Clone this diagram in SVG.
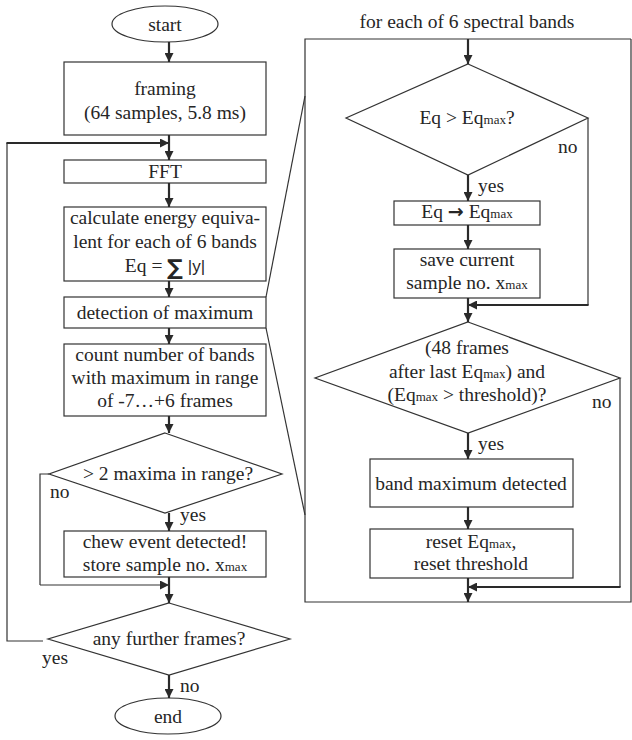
<svg xmlns="http://www.w3.org/2000/svg" width="632" height="740" viewBox="0 0 632 740">
  <defs>
    <marker id="ah" viewBox="0 0 10 10" refX="10" refY="5" markerWidth="9" markerHeight="9" markerUnits="userSpaceOnUse" orient="auto">
      <path d="M0,0 L10,5 L0,10 z" fill="#2a2a2a"/>
    </marker>
    <style>
      .shape { fill: #ffffff; stroke: #333333; stroke-width: 1.2; }
      .txt { font-size: 19.5px; fill: #262626; text-anchor: middle; }
      .lbl { font-size: 19.5px; fill: #262626; }
      .sub { font-size: 13px; }
      .flow { fill: none; stroke: #2a2a2a; stroke-width: 2.2; }
      .thin { fill: none; stroke: #333333; stroke-width: 1.2; }
    </style>
  </defs>

  <rect width="632" height="740" fill="#ffffff"/>

  <g font-family="'Liberation Serif', 'Times New Roman', Times, serif">
  <!-- right panel: per-band processing -->
  <g id="band-panel">
    <path class="thin" d="M631,39 L305,39 L305,602 L631,602 L631,39"/>
    <text class="txt" x="467" y="28">for each of 6 spectral bands</text>
  </g>

  <!-- main loop nodes -->
  <g id="start">
    <ellipse class="shape" cx="165" cy="24" rx="53" ry="18"/>
    <text class="txt" x="165" y="31">start</text>
  </g>
  <g id="framing">
    <rect class="shape" x="64" y="62" width="202" height="73"/>
    <text class="txt" x="165" y="95">framing</text>
    <text class="txt" x="165" y="119">(64 samples, 5.8 ms)</text>
  </g>
  <g id="fft">
    <rect class="shape" x="64" y="160" width="202" height="23"/>
    <text class="txt" x="165" y="178">FFT</text>
  </g>
  <g id="energy">
    <rect class="shape" x="64" y="207" width="202" height="74"/>
    <text class="txt" x="165" y="224">calculate energy equiva-</text>
    <text class="txt" x="165" y="248">lent for each of 6 bands</text>
    <text class="txt" x="165" y="272">Eq = <tspan font-family="'DejaVu Sans', sans-serif" font-weight="bold" font-size="22" dy="3">∑</tspan><tspan font-family="'Liberation Sans', Arial, sans-serif" font-size="17" dy="-3"> |y|</tspan></text>
  </g>
  <g id="detect-max">
    <rect class="shape" x="64" y="297" width="202" height="31"/>
    <text class="txt" x="165" y="319">detection of maximum</text>
  </g>
  <g id="count">
    <rect class="shape" x="64" y="344" width="202" height="72"/>
    <text class="txt" x="165" y="361">count number of bands</text>
    <text class="txt" x="165" y="384">with maximum in range</text>
    <text class="txt" x="165" y="407">of -7…+6 frames</text>
  </g>
  <g id="maxima-check">
    <polygon class="shape" points="165,433 282,474 165,513 49,474"/>
    <text class="txt" x="168" y="480">&gt; 2 maxima in range?</text>
  </g>
  <g id="chew-event">
    <rect class="shape" x="64" y="531" width="202" height="46"/>
    <text class="txt" x="165" y="548">chew event detected!</text>
    <text class="txt" x="165" y="571">store sample no. x<tspan class="sub">max</tspan></text>
  </g>
  <g id="more-frames">
    <polygon class="shape" points="169,603 290,639 169,675 48,639"/>
    <text class="txt" x="169" y="645">any further frames?</text>
  </g>
  <g id="end">
    <ellipse class="shape" cx="168" cy="716" rx="53" ry="18"/>
    <text class="txt" x="168" y="723">end</text>
  </g>

  <!-- per-band nodes -->
  <g id="eq-compare">
    <polygon class="shape" points="468,64 588,118 468,175 346,118"/>
    <text class="txt" x="467" y="124">Eq &gt; Eq<tspan class="sub">max</tspan>?</text>
  </g>
  <g id="eq-store">
    <rect class="shape" x="394" y="201" width="146" height="24"/>
    <text class="txt" x="467" y="218">Eq <tspan font-family="'DejaVu Sans', sans-serif" font-weight="bold" font-size="19">→</tspan> Eq<tspan class="sub">max</tspan></text>
  </g>
  <g id="save-sample">
    <rect class="shape" x="394" y="249" width="146" height="49"/>
    <text class="txt" x="467" y="266">save current</text>
    <text class="txt" x="467" y="289">sample no. x<tspan class="sub">max</tspan></text>
  </g>
  <g id="band-check">
    <polygon class="shape" points="468,322 620,378 468,433 315,378"/>
    <text class="txt" x="467" y="354">(48 frames</text>
    <text class="txt" x="467" y="378">after last Eq<tspan class="sub">max</tspan>) and</text>
    <text class="txt" x="467" y="401">(Eq<tspan class="sub">max</tspan> &gt; threshold)?</text>
  </g>
  <g id="band-max">
    <rect class="shape" x="370" y="459" width="203" height="48"/>
    <text class="txt" x="471" y="490">band maximum detected</text>
  </g>
  <g id="reset">
    <rect class="shape" x="370" y="529" width="203" height="49"/>
    <text class="txt" x="471" y="548">reset Eq<tspan class="sub">max</tspan>,</text>
    <text class="txt" x="471" y="570">reset threshold</text>
  </g>

  <!-- connectors -->
  <g id="connectors">
    <!-- main column -->
    <line class="flow" x1="169" y1="42" x2="169" y2="62" marker-end="url(#ah)"/>
    <line class="flow" x1="169" y1="135" x2="169" y2="160" marker-end="url(#ah)"/>
    <line class="flow" x1="169" y1="183" x2="169" y2="207" marker-end="url(#ah)"/>
    <line class="flow" x1="169" y1="281" x2="169" y2="297" marker-end="url(#ah)"/>
    <line class="flow" x1="169" y1="328" x2="169" y2="344" marker-end="url(#ah)"/>
    <line class="flow" x1="169" y1="416" x2="169" y2="433" marker-end="url(#ah)"/>
    <line class="flow" x1="169" y1="513" x2="169" y2="531" marker-end="url(#ah)"/>
    <line class="flow" x1="169" y1="577" x2="169" y2="603" marker-end="url(#ah)"/>
    <line class="flow" x1="169" y1="675" x2="169" y2="698" marker-end="url(#ah)"/>

    <!-- frame loop back to FFT -->
    <polyline class="thin" points="43,641 7,641 7,143"/>
    <line class="flow" x1="6.4" y1="143" x2="169" y2="143" stroke-width="2.6" marker-end="url(#ah)"/>

    <!-- skip when too few maxima -->
    <polyline class="thin" points="49,474 40,474 40,585"/>
    <line class="thin" x1="40" y1="585" x2="169" y2="585" stroke-width="1.6" marker-end="url(#ah)"/>

    <!-- zoom lines to band panel -->
    <line class="thin" x1="266" y1="297" x2="305" y2="96"/>
    <line class="thin" x1="266" y1="328" x2="305" y2="515"/>

    <!-- band column -->
    <line class="flow" x1="468" y1="39" x2="468" y2="64" marker-end="url(#ah)"/>
    <line class="flow" x1="468" y1="175" x2="468" y2="201" marker-end="url(#ah)"/>
    <line class="flow" x1="468" y1="225" x2="468" y2="249" marker-end="url(#ah)"/>
    <line class="flow" x1="468" y1="298" x2="468" y2="322" marker-end="url(#ah)"/>
    <polyline class="thin" points="588,118 588,305"/>
    <line class="flow" x1="588.6" y1="305" x2="468" y2="305" marker-end="url(#ah)"/>
    <line class="flow" x1="468" y1="433" x2="468" y2="459" marker-end="url(#ah)"/>
    <line class="flow" x1="468" y1="507" x2="468" y2="529" marker-end="url(#ah)"/>
    <polyline class="thin" points="620,378 620,587"/>
    <line class="flow" x1="620.6" y1="587" x2="468" y2="587" marker-end="url(#ah)"/>
    <line class="flow" x1="468" y1="578" x2="468" y2="602" marker-end="url(#ah)"/>

    <!-- branch labels -->
    <text class="lbl" x="50" y="498">no</text>
    <text class="lbl" x="180" y="521">yes</text>
    <text class="lbl" x="42" y="664">yes</text>
    <text class="lbl" x="180" y="692">no</text>
    <text class="lbl" x="558" y="153">no</text>
    <text class="lbl" x="478" y="192">yes</text>
    <text class="lbl" x="592" y="408">no</text>
    <text class="lbl" x="478" y="450">yes</text>
  </g>
  </g>
</svg>
